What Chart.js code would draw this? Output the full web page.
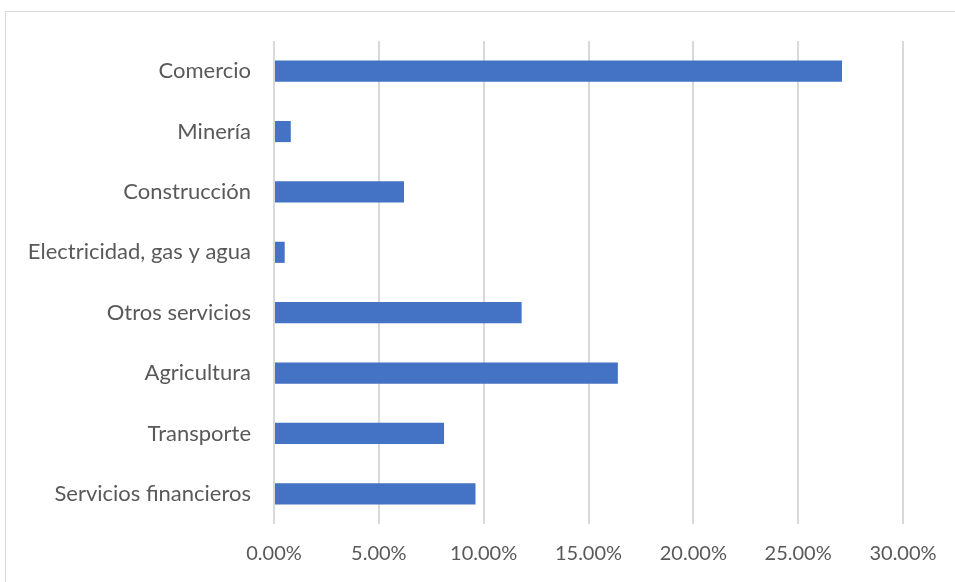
<!DOCTYPE html>
<html lang="es">
<head>
    <meta charset="UTF-8">
    <title>Participación por sector</title>
    <script src="https://cdn.jsdelivr.net/npm/chart.js"></script>
    <style>
        html, body { margin: 0; padding: 0; background: #fff; }
        #wrap { position: relative; width: 955px; height: 582px; overflow: hidden; }
    </style>
</head>
<body>
    <div id="wrap">
        <canvas id="sectorChart" width="955" height="582"></canvas>
    </div>
    <script>
        const sectores = [
            "Comercio",
            "Minería",
            "Construcción",
            "Electricidad, gas y agua",
            "Otros servicios",
            "Agricultura",
            "Transporte",
            "Servicios financieros"
        ];
        const participacion = [27.09, 0.8, 6.2, 0.51, 11.81, 16.4, 8.11, 9.61];
        const ejeMin = 0;
        const ejeMax = 30;
        const ejePaso = 5;

        // marco gris del gráfico (como el de Excel)
        const marco = {
            id: 'marco',
            beforeDraw(chart) {
                const c = chart.ctx;
                c.save();
                c.strokeStyle = '#d9d9d9';
                c.lineWidth = 1;
                c.strokeRect(5.5, 11.5, 1000, 700);
                c.restore();
            }
        };

        new Chart(document.getElementById('sectorChart').getContext('2d'), {
            type: 'bar',
            data: {
                labels: sectores,
                datasets: [{
                    data: participacion,
                    backgroundColor: '#4472C4',
                    categoryPercentage: 1,
                    barPercentage: 0.35
                }]
            },
            options: {
                indexAxis: 'y',
                responsive: false,
                animation: false,
                layout: { padding: { top: 41, right: 52, bottom: 0, left: 0 } },
                plugins: {
                    legend: { display: false },
                    tooltip: { enabled: false }
                },
                scales: {
                    x: {
                        min: ejeMin,
                        max: ejeMax,
                        afterFit(scale) { scale.height = 58; },
                        grid: { color: '#d9d9d9', lineWidth: 2, drawTicks: false },
                        border: { display: false },
                        ticks: {
                            stepSize: ejePaso,
                            padding: 18,
                            color: '#595959',
                            font: { family: 'Lato', size: 20 },
                            callback: v => v.toFixed(2) + '%'
                        }
                    },
                    y: {
                        afterFit(scale) { scale.width = 274; },
                        grid: { display: false, drawTicks: false },
                        border: { display: false },
                        ticks: {
                            padding: 23,
                            color: '#595959',
                            font: { family: 'Lato', size: 22 }
                        }
                    }
                }
            },
            plugins: [marco]
        });
    </script>
</body>
</html>
